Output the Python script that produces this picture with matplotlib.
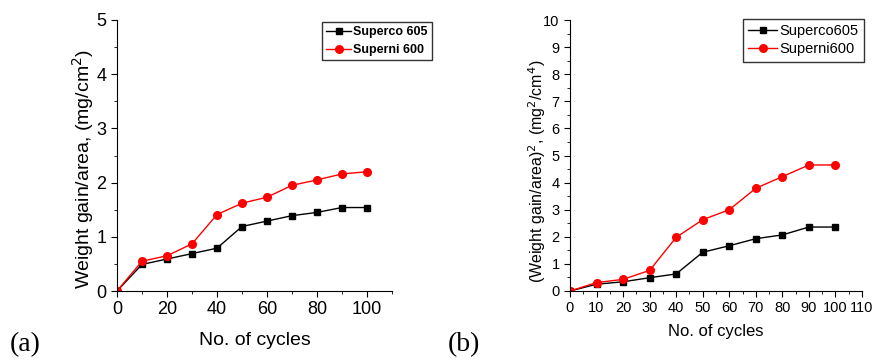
import matplotlib
matplotlib.use("Agg")
import matplotlib.pyplot as plt
from matplotlib.ticker import MultipleLocator

plt.rcParams['font.family'] = ['Liberation Sans', 'DejaVu Sans']

cycles = [0, 10, 20, 30, 40, 50, 60, 70, 80, 90, 100]
a_superco = [0, 0.49, 0.59, 0.69, 0.79, 1.19, 1.29, 1.39, 1.45, 1.54, 1.54]
a_superni = [0, 0.55, 0.65, 0.87, 1.41, 1.62, 1.73, 1.95, 2.05, 2.16, 2.20]
b_superco = [0, 0.25, 0.34, 0.49, 0.63, 1.43, 1.67, 1.93, 2.07, 2.36, 2.36]
b_superni = [0, 0.31, 0.43, 0.76, 1.98, 2.63, 3.00, 3.79, 4.22, 4.65, 4.65]

fig = plt.figure(figsize=(8.75, 3.6), dpi=100)
W, H = 875, 360

def add_ax(l, t, r, b):
    return fig.add_axes([l / W, 1 - b / H, (r - l) / W, (b - t) / H])

def style(ax):
    ax.spines['top'].set_visible(False)
    ax.spines['right'].set_visible(False)
    ax.tick_params(which='both', direction='out')
    ax.tick_params(which='major', length=4)
    ax.tick_params(which='minor', length=2.5)

# Panel (a)
ax1 = add_ax(117, 20, 392, 291)
ax1.plot(cycles, a_superco, '-s', color='black', ms=5, lw=1, label='Superco 605')
ax1.plot(cycles, a_superni, '-o', color='red', ms=5.5, lw=1, label='Superni 600')
ax1.set_xlim(0, 110)
ax1.set_ylim(0, 5)
ax1.set_xticks([0, 20, 40, 60, 80, 100])
ax1.xaxis.set_minor_locator(MultipleLocator(10))
ax1.yaxis.set_major_locator(MultipleLocator(1))
ax1.yaxis.set_minor_locator(MultipleLocator(0.5))
style(ax1)
ax1.tick_params(labelsize=13)
ax1.set_xlabel('No. of cycles', fontsize=14, labelpad=10)
ax1.set_ylabel('Weight gain/area, (mg/cm$^2$)', fontsize=14)
ax1.yaxis.set_label_coords(-0.075, 0.45)
leg1 = ax1.legend(loc='upper left', bbox_to_anchor=(322 / W, 1 - 22 / H),
                  bbox_transform=fig.transFigure,
                  prop={'weight': 'bold', 'size': 9},
                  frameon=True, fancybox=False,
                  edgecolor='black', handlelength=2.0, handletextpad=0.1,
                  borderpad=0.35, labelspacing=0.45, borderaxespad=0)
leg1.get_frame().set_linewidth(1.0)
fig.text(10 / W, 1 - 345 / H, '(a)', fontsize=20, family=['Liberation Serif'], va='center')

# Panel (b)
ax2 = add_ax(570, 20, 862, 291)
ax2.plot(cycles, b_superco, '-s', color='black', ms=5, lw=1, label='Superco605')
ax2.plot(cycles, b_superni, '-o', color='red', ms=5.5, lw=1, label='Superni600')
ax2.set_xlim(0, 110)
ax2.set_ylim(0, 10)
ax2.xaxis.set_major_locator(MultipleLocator(10))
ax2.xaxis.set_minor_locator(MultipleLocator(5))
ax2.yaxis.set_major_locator(MultipleLocator(1))
ax2.yaxis.set_minor_locator(MultipleLocator(0.5))
style(ax2)
ax2.tick_params(labelsize=10.5)
ax2.set_xlabel('No. of cycles', fontsize=12, labelpad=6)
ax2.set_ylabel('(Weight gain/area)$^2$, (mg$^2$/cm$^4$)', fontsize=11.5)
ax2.yaxis.set_label_coords(-0.075, 0.44)
leg2 = ax2.legend(loc='upper left', bbox_to_anchor=(743 / W, 1 - 19 / H),
                  bbox_transform=fig.transFigure, fontsize=10.5,
                  frameon=True, fancybox=False, edgecolor='black',
                  handlelength=2.0, handletextpad=0.15, borderpad=0.35,
                  labelspacing=0.3, borderaxespad=0)
leg2.get_frame().set_linewidth(1.0)
fig.text(448 / W, 1 - 345 / H, '(b)', fontsize=20, family=['Liberation Serif'], va='center')

fig.savefig('out.png', dpi=100)
